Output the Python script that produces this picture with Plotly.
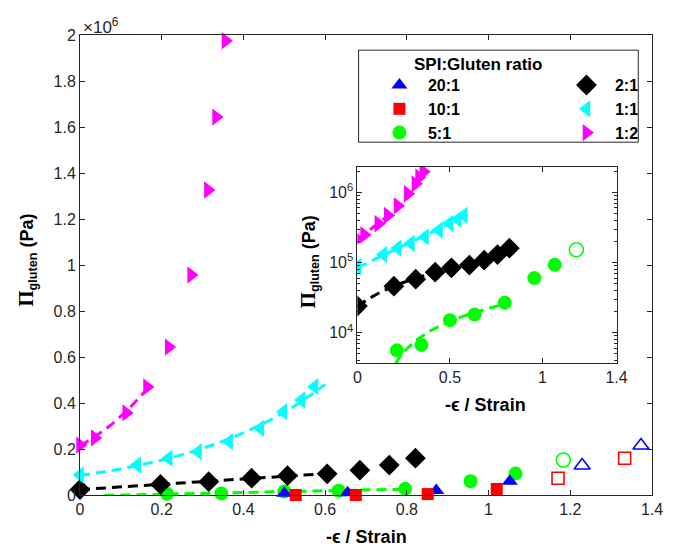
import numpy as np
import plotly.graph_objects as go

# ---------------- data (Pa) ----------------
x_20_1 = [0.500, 0.655, 0.872, 1.052]
y_20_1 = [8e3, 1.0e4, 2.0e4, 6.0e4]
x_20_1_open = [1.229, 1.373]
y_20_1_open = [1.28e5, 2.15e5]

x_10_1 = [0.528, 0.675, 0.851, 1.020]
y_10_1 = [0.0, 0.0, 4e3, 2.6e4]
x_10_1_open = [1.170, 1.333]
y_10_1_open = [7.3e4, 1.60e5]

x_5_1 = [0.213, 0.346, 0.500, 0.633, 0.796, 0.956, 1.066]
y_5_1 = [5.6e3, 6.7e3, 1.51e4, 1.82e4, 2.67e4, 6.0e4, 9.3e4]
x_5_1_open = [1.183]
y_5_1_open = [1.52e5]

x_2_1 = [0.0, 0.197, 0.315, 0.420, 0.508, 0.605, 0.685, 0.757, 0.821]
y_2_1 = [2.4e4, 4.6e4, 5.8e4, 7.3e4, 8.4e4, 9.2e4, 1.08e5, 1.30e5, 1.60e5]

x_1_1 = [0.0, 0.140, 0.217, 0.289, 0.365, 0.441, 0.498, 0.542, 0.574]
y_1_1 = [8.7e4, 1.30e5, 1.60e5, 1.88e5, 2.32e5, 2.90e5, 3.62e5, 4.13e5, 4.71e5]

x_1_2 = [0.0, 0.036, 0.113, 0.164, 0.217, 0.272, 0.313, 0.333, 0.356]
y_1_2 = [2.17e5, 2.48e5, 3.57e5, 4.70e5, 6.43e5, 9.57e5, 1.326e6, 1.643e6, 1.975e6]

# fitting windows (strain range) and fit model of the dashed lines
fit_5_1 = (0.06, 0.80, "linear")
fit_2_1 = (0.0, 0.62, "linear")
fit_1_1 = (0.0, 0.60, "exp")
fit_1_2 = (0.0, 0.17, "exp")

labels = ["20:1", "10:1", "5:1", "2:1", "1:1", "1:2"]

main_yticks = [0, 2e5, 4e5, 6e5, 8e5, 1e6, 1.2e6, 1.4e6, 1.6e6, 1.8e6, 2e6]
main_yticktext = ["0", "0.2", "0.4", "0.6", "0.8", "1", "1.2", "1.4", "1.6", "1.8", "2"]
main_xticks = [0, 0.2, 0.4, 0.6, 0.8, 1.0, 1.2, 1.4]
main_xticktext = ["0", "0.2", "0.4", "0.6", "0.8", "1", "1.2", "1.4"]
inset_xticks = [0, 0.5, 1.0, 1.4]
inset_xticktext = ["0", "0.5", "1", "1.4"]
inset_yticks = [1e4, 1e5, 1e6]
inset_yticktext = ["10<sup>4</sup>", "10<sup>5</sup>", "10<sup>6</sup>"]

# ---------------- styles ----------------
BLUE, RED, GREEN = "#0000FF", "#FF0000", "#00FF00"
BLACK, CYAN, MAGENTA = "#000000", "#00FFFF", "#FF00FF"
AX = "#262626"
FONT = "Liberation Sans, Arial, sans-serif"
DASH = "10px,6px"


def fit_curve(x, y, spec):
    lo, hi, kind = spec
    x = np.asarray(x, float)
    y = np.asarray(y, float)
    m = (x >= lo - 1e-9) & (x <= hi + 1e-9)
    xf = np.linspace(lo, hi, 80)
    if kind == "linear":
        b, a = np.polyfit(x[m], y[m], 1)
        return xf, a + b * xf
    b, a = np.polyfit(x[m], np.log(y[m]), 1)
    return xf, np.exp(a + b * xf)


fig = go.Figure()


def add_fit(x, y, spec, color, xa, ya):
    xf, yf = fit_curve(x, y, spec)
    if ya == "y2":
        yf = np.where(yf > 0, yf, np.nan)
    fig.add_trace(go.Scatter(x=xf, y=yf, mode="lines", xaxis=xa, yaxis=ya,
                             line=dict(color=color, width=3, dash=DASH),
                             showlegend=False, hoverinfo="skip",
                             connectgaps=False))


def add_pts(x, y, sym, color, size, xa, ya, name=None, legend=None, clip=False, rank=None):
    open_ = sym.endswith("-open")
    marker = dict(symbol=sym, size=size, color=color,
                  line=dict(color=color, width=1.6 if open_ else 0))
    if name is not None:
        kw = dict(name=name, showlegend=True, legend=legend, legendrank=rank)
    else:
        kw = dict(showlegend=False)
    fig.add_trace(go.Scatter(x=x, y=y, mode="markers", xaxis=xa, yaxis=ya,
                             marker=marker, cliponaxis=clip, **kw))


# ---------------- main axes ----------------
add_fit(x_5_1, y_5_1, fit_5_1, GREEN, "x", "y")
add_fit(x_2_1, y_2_1, fit_2_1, BLACK, "x", "y")
add_fit(x_1_1, y_1_1, fit_1_1, CYAN, "x", "y")
add_fit(x_1_2, y_1_2, fit_1_2, MAGENTA, "x", "y")

add_pts(x_5_1, y_5_1, "circle", GREEN, 14, "x", "y", labels[2], "legend", rank=3)
add_pts(x_20_1, y_20_1, "triangle-up", BLUE, 14, "x", "y", labels[0], "legend", rank=1)
add_pts(x_10_1, y_10_1, "square", RED, 12, "x", "y", labels[1], "legend", rank=2)
add_pts(x_2_1, y_2_1, "diamond", BLACK, 16, "x", "y", labels[3], "legend2", rank=4)
add_pts(x_1_1, y_1_1, "triangle-left", CYAN, 15, "x", "y", labels[4], "legend2", rank=5)
add_pts(x_1_2, y_1_2, "triangle-right", MAGENTA, 15, "x", "y", labels[5], "legend2", rank=6)
add_pts(x_20_1_open, y_20_1_open, "triangle-up-open", BLUE, 14, "x", "y")
add_pts(x_10_1_open, y_10_1_open, "square-open", RED, 12, "x", "y")
add_pts(x_5_1_open, y_5_1_open, "circle-open", GREEN, 14, "x", "y")

# ---------------- inset axes ----------------
add_fit(x_5_1, y_5_1, fit_5_1, GREEN, "x2", "y2")
add_fit(x_2_1, y_2_1, fit_2_1, BLACK, "x2", "y2")
add_fit(x_1_1, y_1_1, fit_1_1, CYAN, "x2", "y2")
add_fit(x_1_2, y_1_2, fit_1_2, MAGENTA, "x2", "y2")
add_pts(x_5_1, y_5_1, "circle", GREEN, 14, "x2", "y2", clip=True)
add_pts(x_5_1_open, y_5_1_open, "circle-open", GREEN, 14, "x2", "y2", clip=True)
add_pts(x_2_1, y_2_1, "diamond", BLACK, 16, "x2", "y2", clip=True)
add_pts(x_1_1, y_1_1, "triangle-left", CYAN, 15, "x2", "y2", clip=True)
add_pts(x_1_2, y_1_2, "triangle-right", MAGENTA, 15, "x2", "y2", clip=True)

tickfont = dict(family=FONT, size=16, color=AX)
axis_common = dict(showline=True, linecolor=AX, linewidth=1, mirror="ticks",
                   ticks="inside", ticklen=5, tickcolor=AX, showgrid=False,
                   zeroline=False, tickfont=tickfont)

minor_vals = [m * 10 ** e for e in (3, 4, 5, 6) for m in range(2, 10)
              if 3.7e3 <= m * 10 ** e <= 2.3e6]

legend_font = dict(family=FONT, size=16, color="black", weight="bold")

fig.update_layout(
    width=675, height=547,
    margin=dict(l=80, r=14, t=35, b=52),
    paper_bgcolor="white", plot_bgcolor="white",
    font=dict(family=FONT, color=AX),
    xaxis=dict(range=[0, 1.4], tickvals=main_xticks, ticktext=main_xticktext,
               domain=[0, 1], anchor="y", **axis_common),
    yaxis=dict(range=[0, 2e6], tickvals=main_yticks, ticktext=main_yticktext,
               domain=[0, 1], anchor="x", **axis_common),
    xaxis2=dict(range=[0, 1.4], tickvals=inset_xticks, ticktext=inset_xticktext,
                domain=[0.485, 0.938], anchor="y2", **axis_common),
    yaxis2=dict(type="log", range=[np.log10(3.7e3), np.log10(2.3e6)],
                tickvals=inset_yticks, ticktext=inset_yticktext,
                domain=[0.287, 0.713], anchor="x2",
                minor=dict(ticks="inside", ticklen=3, tickcolor=AX,
                           tickmode="array", tickvals=minor_vals),
                **axis_common),
    legend=dict(x=0.5086, y=0.928, xanchor="left", yanchor="top",
                bgcolor="rgba(0,0,0,0)", borderwidth=0, itemwidth=47,
                font=legend_font, itemclick=False, traceorder="normal"),
    legend2=dict(x=0.8356, y=0.928, xanchor="left", yanchor="top",
                 bgcolor="rgba(0,0,0,0)", borderwidth=0, itemwidth=47,
                 font=legend_font, itemclick=False, traceorder="normal"),
    shapes=[dict(type="rect", xref="paper", yref="paper",
                 x0=0.487, x1=0.976, y0=0.767, y1=0.967,
                 line=dict(color=AX, width=1), fillcolor="white", layer="below")],
)

PI = "<span style=\"font-family:'Liberation Serif', 'Times New Roman', serif; font-size:21px\">\u03a0</span>"
ytitle = "<b>" + PI + "<sub>gluten</sub> (Pa)</b>"
xtitle = "<b>-\u03f5 / Strain</b>"

fig.add_annotation(text=xtitle, xref="paper", yref="paper", x=0.5, y=-0.0913,
                   xanchor="center", yanchor="middle", showarrow=False,
                   font=dict(family=FONT, size=18, color="black"))
fig.add_annotation(text=ytitle, xref="paper", yref="paper", x=-0.093, y=0.511,
                   xanchor="center", yanchor="middle", showarrow=False, textangle=-90,
                   font=dict(family=FONT, size=18, color="black"))
fig.add_annotation(text=xtitle, xref="paper", yref="paper", x=0.709, y=0.1957,
                   xanchor="center", yanchor="middle", showarrow=False,
                   font=dict(family=FONT, size=18, color="black"))
fig.add_annotation(text=ytitle, xref="paper", yref="paper", x=0.401, y=0.5065,
                   xanchor="center", yanchor="middle", showarrow=False, textangle=-90,
                   font=dict(family=FONT, size=18, color="black"))
fig.add_annotation(text="\u00d710<sup>6</sup>", xref="paper", yref="paper",
                   x=0.0017, y=1.02, xanchor="left", yanchor="middle", showarrow=False,
                   font=dict(family=FONT, size=17, color=AX))
fig.add_annotation(text="<b>SPI:Gluten ratio</b>", xref="paper", yref="paper",
                   x=(417 - 80) / 581, y=(495 - 65) / 460, xanchor="left",
                   yanchor="middle", showarrow=False,
                   font=dict(family=FONT, size=17, color="black"))

fig.write_html("out.html")
